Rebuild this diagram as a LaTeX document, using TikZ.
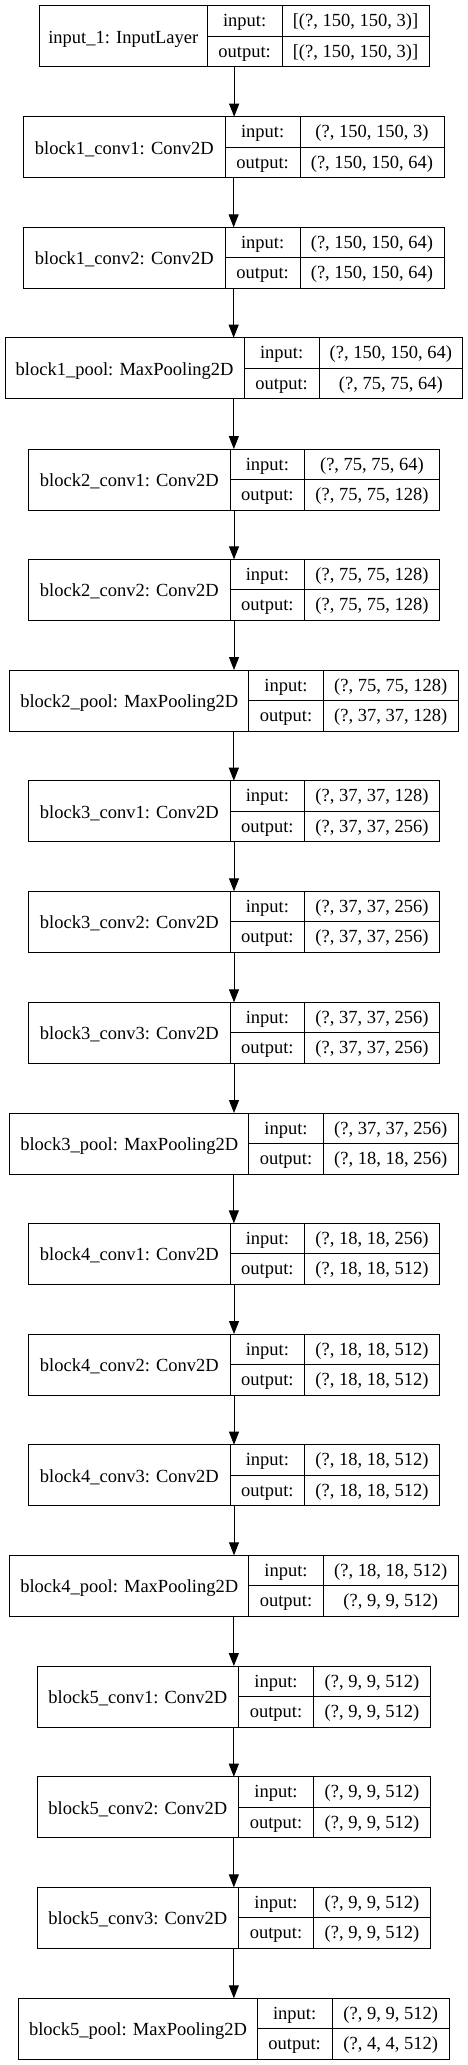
\documentclass[tikz,border=0pt]{standalone}
\usepackage{fontspec}
\setmainfont{Liberation Serif}
\usetikzlibrary{arrows.meta}
\tikzset{
  layerbox/.style={draw=black, line width=1pt, rectangle, inner sep=0pt, outer sep=0pt, minimum height=61pt},
  rule/.style={draw=black, line width=1pt},
  txt/.style={inner sep=0pt, outer sep=0pt, font=\fontsize{18.5}{22}\selectfont, anchor=base},
  arr/.style={draw=black, line width=1pt, -{Triangle[length=13pt,width=10pt]}}
}
% #1 name, #2 top, #3 x1, #4 d1, #5 d2, #6 x2, #7 label, #8 input, #9 output
\newcommand{\klayer}[9]{%
  \pgfmathsetmacro\kw{#6-#3}%
  \node[layerbox, minimum width=\kw pt, anchor=north west] (#1) at (#3,#2) {};
  \draw[rule] ({#4},{#2}) -- ({#4},{#2+61});
  \draw[rule] ({#5},{#2}) -- ({#5},{#2+61});
  \draw[rule] ({#4},{#2+30.5}) -- ({#6},{#2+30.5});
  \node[txt] (#1-lab) at ({(#3+#4)/2},{#2+37.5}) {#7};
  \node[txt] (#1-il) at ({(#4+#5)/2},{#2+21}) {input:};
  \node[txt] (#1-iv) at ({(#5+#6)/2},{#2+21}) {#8};
  \node[txt] (#1-ol) at ({(#4+#5)/2},{#2+51.5}) {output:};
  \node[txt] (#1-ov) at ({(#5+#6)/2},{#2+51.5}) {#9};
}
\begin{document}
\begin{tikzpicture}[x=1pt,y=-1pt]
\useasboundingbox (0,0) rectangle (468,2065);
\klayer{L1}{5.7}{39.3}{207.3}{282}{429}{input\_1: InputLayer}{[(?, 150, 150, 3)]}{[(?, 150, 150, 3)]}
\klayer{L2}{116.7}{23.3}{225.3}{300}{444}{block1\_conv1: Conv2D}{(?, 150, 150, 3)}{(?, 150, 150, 64)}
\klayer{L3}{227.3}{23.3}{225.3}{300}{444}{block1\_conv2: Conv2D}{(?, 150, 150, 64)}{(?, 150, 150, 64)}
\klayer{L4}{337.7}{5}{244.3}{319}{462.7}{block1\_pool: MaxPooling2D}{(?, 150, 150, 64)}{(?, 75, 75, 64)}
\klayer{L5}{449}{28.7}{230}{304.7}{439.3}{block2\_conv1: Conv2D}{(?, 75, 75, 64)}{(?, 75, 75, 128)}
\klayer{L6}{559.3}{28.7}{230}{304.7}{439.3}{block2\_conv2: Conv2D}{(?, 75, 75, 128)}{(?, 75, 75, 128)}
\klayer{L7}{670}{9.7}{248.7}{323.3}{458}{block2\_pool: MaxPooling2D}{(?, 75, 75, 128)}{(?, 37, 37, 128)}
\klayer{L8}{780.7}{28.7}{230}{304.7}{439.3}{block3\_conv1: Conv2D}{(?, 37, 37, 128)}{(?, 37, 37, 256)}
\klayer{L9}{891.3}{28.7}{230}{304.7}{439.3}{block3\_conv2: Conv2D}{(?, 37, 37, 256)}{(?, 37, 37, 256)}
\klayer{L10}{1002.3}{28.7}{230}{304.7}{439.3}{block3\_conv3: Conv2D}{(?, 37, 37, 256)}{(?, 37, 37, 256)}
\klayer{L11}{1113}{9.7}{248.7}{323.3}{458}{block3\_pool: MaxPooling2D}{(?, 37, 37, 256)}{(?, 18, 18, 256)}
\klayer{L12}{1223.3}{28.7}{230}{304.7}{439.3}{block4\_conv1: Conv2D}{(?, 18, 18, 256)}{(?, 18, 18, 512)}
\klayer{L13}{1334}{28.7}{230}{304.7}{439.3}{block4\_conv2: Conv2D}{(?, 18, 18, 512)}{(?, 18, 18, 512)}
\klayer{L14}{1444.7}{28.7}{230}{304.7}{439.3}{block4\_conv3: Conv2D}{(?, 18, 18, 512)}{(?, 18, 18, 512)}
\klayer{L15}{1555.3}{9.7}{248.7}{323.3}{458}{block4\_pool: MaxPooling2D}{(?, 18, 18, 512)}{(?, 9, 9, 512)}
\klayer{L16}{1666}{37}{238.7}{313.3}{430.7}{block5\_conv1: Conv2D}{(?, 9, 9, 512)}{(?, 9, 9, 512)}
\klayer{L17}{1776.7}{37}{238.7}{313.3}{430.7}{block5\_conv2: Conv2D}{(?, 9, 9, 512)}{(?, 9, 9, 512)}
\klayer{L18}{1887.3}{37}{238.7}{313.3}{430.7}{block5\_conv3: Conv2D}{(?, 9, 9, 512)}{(?, 9, 9, 512)}
\klayer{L19}{1998.3}{18.7}{257.3}{332}{449.3}{block5\_pool: MaxPooling2D}{(?, 9, 9, 512)}{(?, 4, 4, 512)}
\foreach \a/\b in {L1/L2,L2/L3,L3/L4,L4/L5,L5/L6,L6/L7,L7/L8,L8/L9,L9/L10,L10/L11,L11/L12,L12/L13,L13/L14,L14/L15,L15/L16,L16/L17,L17/L18,L18/L19}
  \draw[arr] (\a.south) -- (\a.south |- \b.north);
\end{tikzpicture}
\end{document}
